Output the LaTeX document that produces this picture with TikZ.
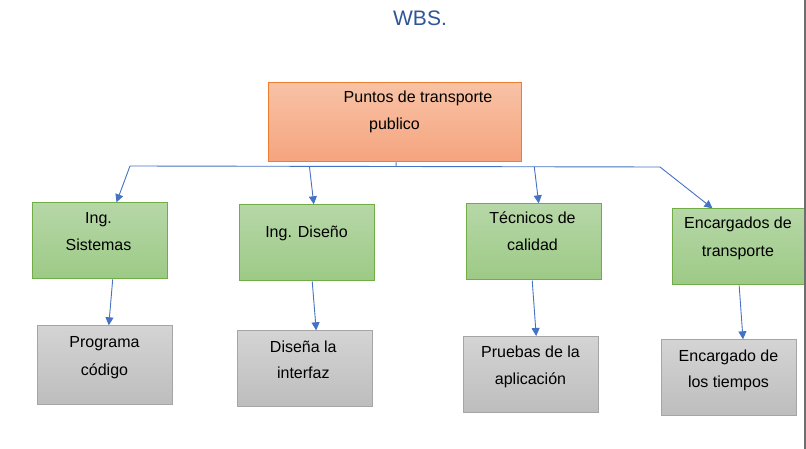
\documentclass[tikz,border=0pt]{standalone}
\usepackage{fontspec}
\setmainfont{Liberation Sans}
\usetikzlibrary{arrows.meta}
\definecolor{arrblue}{HTML}{4472C4}
\definecolor{titleblue}{HTML}{2F5597}
\definecolor{orgtop}{HTML}{F8C2A6}
\definecolor{orgbot}{HTML}{F5A47E}
\definecolor{orgline}{HTML}{ED7D31}
\definecolor{grntop}{HTML}{B6D7A7}
\definecolor{grnbot}{HTML}{9DCA86}
\definecolor{grnline}{HTML}{70AD47}
\definecolor{grytop}{HTML}{D4D4D4}
\definecolor{grybot}{HTML}{BDBDBD}
\definecolor{gryline}{HTML}{A5A5A5}
\definecolor{edgeline}{HTML}{6E6E6E}
\tikzset{
  box/.style={anchor=north west, inner sep=0pt, line width=1pt},
  topbox/.style={box, draw=orgline, top color=orgtop, bottom color=orgbot},
  grnbox/.style={box, draw=grnline, top color=grntop, bottom color=grnbot},
  grybox/.style={box, draw=gryline, top color=grytop, bottom color=grybot},
  txt/.style={anchor=base, inner sep=0pt, font=\fontsize{16}{19}\selectfont, text=black},
  arr/.style={draw=arrblue, line width=0.9pt, -{Triangle[length=8pt,width=8pt]}},
  bus/.style={draw=arrblue, line width=0.9pt}
}
\begin{document}
\begin{tikzpicture}[x=1pt,y=-1pt]
\useasboundingbox (0,0) rectangle (806,449);
% title
\node[anchor=base, inner sep=0pt, font=\fontsize{21}{25}\selectfont, text=titleblue] (title) at (420,26) {WBS.};
% boxes
\node[topbox, minimum width=253pt, minimum height=79pt] (top) at (268.3,82.3) {};
\node[grnbox, minimum width=135pt, minimum height=76pt] (g1) at (31.7,202.3) {};
\node[grnbox, minimum width=135pt, minimum height=76pt] (g2) at (239.3,204.3) {};
\node[grnbox, minimum width=135pt, minimum height=76pt] (g3) at (465.7,203.3) {};
\node[grnbox, minimum width=132.5pt, minimum height=76pt] (g4) at (671.7,208.3) {};
\node[grybox, minimum width=135pt, minimum height=79pt] (r1) at (37.3,325.3) {};
\node[grybox, minimum width=135pt, minimum height=76pt] (r2) at (236.7,330.3) {};
\node[grybox, minimum width=135pt, minimum height=76pt] (r3) at (463.3,336.0) {};
\node[grybox, minimum width=135pt, minimum height=76pt] (r4) at (661.3,339.3) {};
% texts
\node[txt] (ta1) at (418,103) {Puntos de transporte};
\node[txt] (ta2) at (394.5,130) {publico};
\node[txt] (tg1a) at (98.5,224) {Ing.};
\node[txt] (tg1b) at (98.5,251) {Sistemas};
\node[txt] (tg2) at (306.5,238) {Ing. Diseño};
\node[txt] (tg3a) at (532.5,224) {Técnicos de};
\node[txt] (tg3b) at (532.5,251) {calidad};
\node[txt] (tg4a) at (738,229) {Encargados de};
\node[txt] (tg4b) at (738,256) {transporte};
\node[txt] (tr1a) at (104.5,347) {Programa};
\node[txt] (tr1b) at (104.5,375) {código};
\node[txt] (tr2a) at (303.3,352) {Diseña la};
\node[txt] (tr2b) at (303.3,378) {interfaz};
\node[txt] (tr3a) at (530.5,357) {Pruebas de la};
\node[txt] (tr3b) at (530.5,384) {aplicación};
\node[txt] (tr4a) at (728.5,361) {Encargado de};
\node[txt] (tr4b) at (728.5,387) {los tiempos};
% bus
\coordinate (bL) at (130,166);
\coordinate (bR) at (660,167);
\coordinate (b2) at (309.5,167);
\coordinate (b3) at (534.3,167);
\coordinate (bm) at (396,166.5);
\draw[bus] (bL) -- (bR);
\draw[bus] ([xshift=0.9pt]top.south) -- (bm);
% arrows to level 2
\draw[arr] (bL) -- ([xshift=16.8pt]g1.north);
\draw[arr] (b2) -- ([xshift=6.5pt]g2.north);
\draw[arr] (b3) -- ([xshift=5pt]g3.north);
\draw[arr] (bR) -- ([xshift=-26pt]g4.north);
% arrows to level 3
\draw[arr] ([xshift=13pt]g1.south) -- ([xshift=3.5pt]r1.north);
\draw[arr] ([xshift=4.9pt]g2.south) -- ([xshift=11.5pt]r2.north);
\draw[arr] ([xshift=-1.5pt]g3.south) -- ([xshift=4.9pt]r3.north);
\draw[arr] ([xshift=0.7pt]g4.south) -- ([xshift=13.7pt]r4.north);
% right edge line
\coordinate (eT) at (804.5,0);
\coordinate (eB) at (804.5,449);
\draw[edgeline, line width=2pt] (eT) -- (eB);
\end{tikzpicture}
\end{document}
